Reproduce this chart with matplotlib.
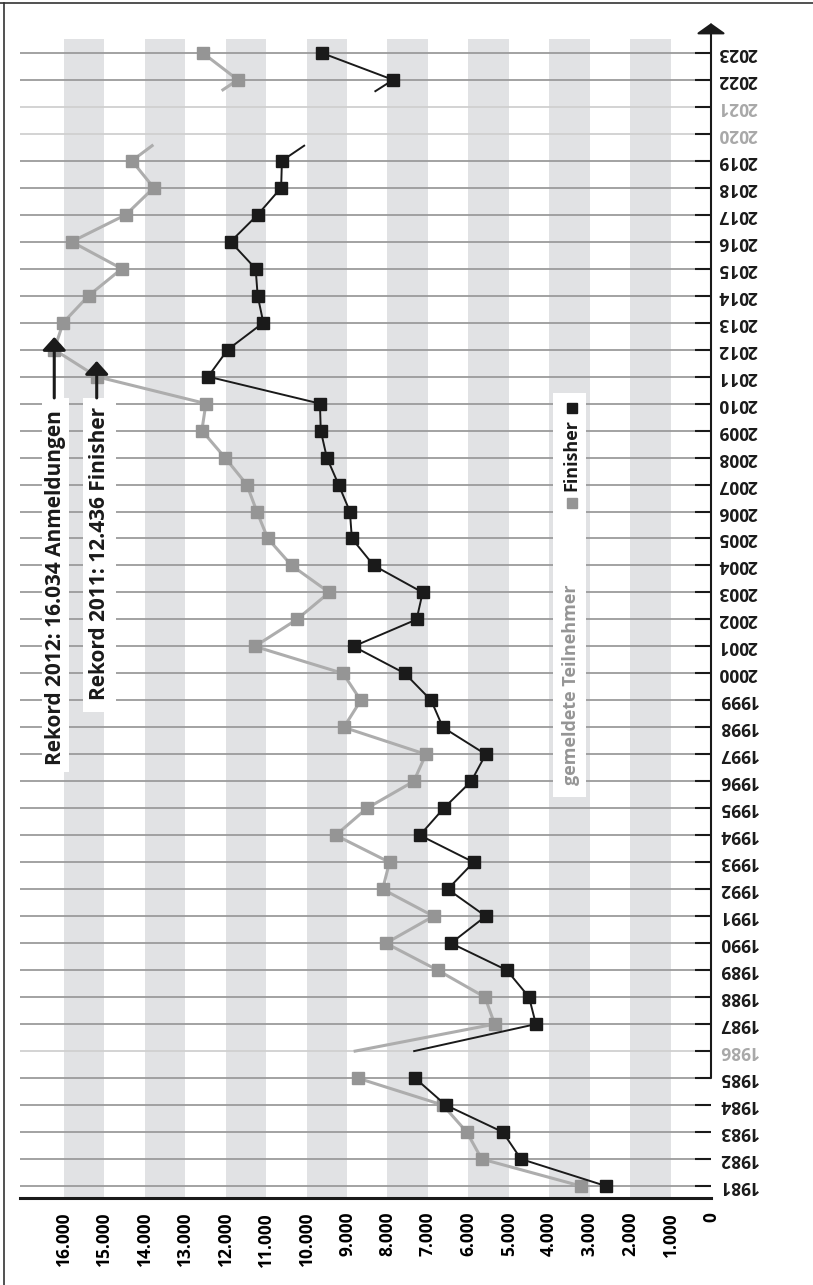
import numpy as np
import matplotlib
matplotlib.use('Agg')
import matplotlib.pyplot as plt
from matplotlib import font_manager
from matplotlib.lines import Line2D
from matplotlib.patches import Rectangle

# Daten
years_fin = [1981, 1982, 1983, 1984, 1985, 1987, 1988, 1989, 1990, 1991, 1992, 1993,
             1994, 1995, 1996, 1997, 1998, 1999, 2000, 2001, 2002, 2003, 2004, 2005,
             2006, 2007, 2008, 2009, 2010, 2011, 2012, 2013, 2014, 2015, 2016, 2017,
             2018, 2019, 2022, 2023]
finisher = [2600, 4700, 5150, 6560, 7320, 4330, 4500, 5050, 6430, 5570, 6510, 5870,
            7200, 6610, 5930, 5570, 6630, 6920, 7570, 8840, 7280, 7130, 8340, 8880,
            8930, 9210, 9500, 9650, 9670, 12436, 11950, 11070, 11210, 11260, 11880, 11210,
            10630, 10610, 7860, 9630]
gemeldet = [3220, 5670, 6040, 6630, 8740, 5350, 5590, 6760, 8040, 6860, 8120, 7950,
            9280, 8510, 7350, 7050, 9080, 8660, 9100, 11280, 10240, 9440, 10370, 10960,
            11230, 11480, 12020, 12590, 12490, 15190, 16240, 16020, 15390, 14570, 15810, 14470,
            13780, 14320, 11700, 12570]

# angedeutete Linien zu fehlenden Jahren: (von Jahr, bis Jahr, Wert)
stubs_fin = [(1987, 1986.0, 7340), (2019, 2019.56, 10060), (2022, 2021.58, 8300)]
stubs_gem = [(1987, 1986.0, 8800), (2019, 2019.56, 13820), (2022, 2021.63, 12070)]

all_years = list(range(1981, 2024))
faded_years = [1986, 2020, 2021]
x_ticks = list(range(0, 17000, 1000))

W, H = 813, 1285

# Schrift: moeglichst schmale fette Schrift
avail = {f.name for f in font_manager.fontManager.ttflist}
font = 'DejaVu Sans'
for cand in ['Liberation Sans Narrow', 'Open Sans', 'Lato', 'Roboto', 'Noto Sans']:
    if cand in avail:
        font = cand
        break
plt.rcParams['font.family'] = [font, 'DejaVu Sans']
plt.rcParams['font.weight'] = 'bold'

fig = plt.figure(figsize=(W / 100, H / 100), dpi=100)
ax = fig.add_axes([20 / W, (H - 1198) / H, (711 - 20) / W, (1198 - 17.8) / H])

xmax = 17087
ymin, ymax = 1980.555, 2024.3
ax.set_xlim(xmax, 0)
ax.set_ylim(ymin, ymax)

# graue Streifen
for lo in range(1000, 16000, 2000):
    ax.fill_betweenx([ymin, 2023.52], lo, lo + 1000, color='#e1e2e4', lw=0, zorder=0)

# Gitterlinien pro Jahr
for y in all_years:
    c = '#d0d0d0' if y in faded_years else '#9b9b9b'
    ax.plot([xmax, 396], [y, y], color=c, lw=1.3, zorder=1, solid_capstyle='butt')


def runs(years, vals):
    yrs = np.array(years)
    v = np.array(vals)
    cut = np.where(np.diff(yrs) > 1)[0] + 1
    return zip(np.split(yrs, cut), np.split(v, cut))


lookup_fin = dict(zip(years_fin, finisher))
lookup_gem = dict(zip(years_fin, gemeldet))

# gemeldete Teilnehmer (grau)
for yr, v in runs(years_fin, gemeldet):
    ax.plot(v, yr, color='#adadad', lw=2.2, zorder=3)
for y0, y1, v in stubs_gem:
    ax.plot([lookup_gem[y0], v], [y0, y1], color='#adadad', lw=2.2, zorder=3)
ax.plot(gemeldet, years_fin, ls='none', marker='s', ms=8.3, color='#959595', zorder=4)

# Finisher (schwarz)
for yr, v in runs(years_fin, finisher):
    ax.plot(v, yr, color='#1a1a1a', lw=1.4, zorder=5)
for y0, y1, v in stubs_fin:
    ax.plot([lookup_fin[y0], v], [y0, y1], color='#1a1a1a', lw=1.4, zorder=5)
ax.plot(finisher, years_fin, ls='none', marker='s', ms=8.5, color='#1a1a1a', zorder=6)

# Achsen
for s in ['top', 'left', 'right']:
    ax.spines[s].set_visible(False)
ax.spines['bottom'].set_linewidth(2.2)
ax.spines['bottom'].set_color('#1a1a1a')

ax.set_xticks(x_ticks)
ax.set_xticklabels([f'{t:,}'.replace(',', '.') for t in x_ticks], rotation=90,
                   fontsize=12.5, fontweight='bold', va='top', ha='center')
ax.tick_params(axis='x', length=0, pad=10)

ax.yaxis.tick_right()
ax.set_yticks(all_years)
ax.set_yticklabels([str(y) for y in all_years], rotation=180, fontsize=12.5,
                   fontweight='bold', va='center', ha='left')
for lab, y in zip(ax.get_yticklabels(), all_years):
    lab.set_color('#a8a8a8' if y in faded_years else '#1a1a1a')
ax.tick_params(axis='y', direction='in', length=11.5, width=1.5, color='#1a1a1a', pad=5)

# Jahresachse mit Pfeil (ab 1985)
ax.annotate('', xy=(0, 2024.1), xytext=(0, 1985), annotation_clip=False,
            arrowprops=dict(arrowstyle='-|>,head_length=0.32,head_width=0.45',
                            mutation_scale=20, lw=1.5, color='#1a1a1a',
                            shrinkA=0, shrinkB=0), zorder=7)

# Legende
ax.add_patch(Rectangle((3090, 1995.42), 820, 14.97, facecolor='white', edgecolor='none', zorder=2))
ax.plot([3440], [2009.85], ls='none', marker='s', ms=7.5, color='#1a1a1a', zorder=6)
ax.plot([3440], [2006.31], ls='none', marker='s', ms=7.5, color='#959595', zorder=6)
ax.text(3450, 2006.75, 'Finisher', rotation=90, ha='center', va='bottom',
        fontsize=13, fontweight='bold', color='#1a1a1a', zorder=6)
ax.text(3450, 1995.86, 'gemeldete Teilnehmer', rotation=90, ha='center', va='bottom',
        fontsize=13, fontweight='bold', color='#959595', zorder=6)

# Rekord-Hinweise
ax.add_patch(Rectangle((15880, 1996.34), 660, 13.87, facecolor='white', edgecolor='none', zorder=2))
ax.add_patch(Rectangle((14720, 1998.57), 820, 11.64, facecolor='white', edgecolor='none', zorder=2))
ax.text(16220, 1996.6, 'Rekord 2012: 16.034 Anmeldungen', rotation=90, ha='center', va='bottom',
        fontsize=15, fontweight='bold', color='#1a1a1a', zorder=6)
ax.text(15110, 1999.0, 'Rekord 2011: 12.436 Finisher', rotation=90, ha='center', va='bottom',
        fontsize=15, fontweight='bold', color='#1a1a1a', zorder=6)
for yr, tip in [(2012, 2012.47), (2011, 2011.58)]:
    xv = lookup_gem[yr]
    ax.annotate('', xy=(xv, tip), xytext=(xv, 2010.21),
                arrowprops=dict(arrowstyle='-|>,head_length=0.4,head_width=0.36',
                                mutation_scale=20, lw=2.2, color='#1a1a1a',
                                shrinkA=0, shrinkB=0), zorder=8)

# Rahmen oben und links
fig.add_artist(Line2D([0, 1], [1 - 3 / H, 1 - 3 / H], color='#333333', lw=1.2))
fig.add_artist(Line2D([4 / W, 4 / W], [0, 1 - 3 / H], color='#333333', lw=1.2))

fig.savefig('out.png', dpi=100, facecolor='white')
